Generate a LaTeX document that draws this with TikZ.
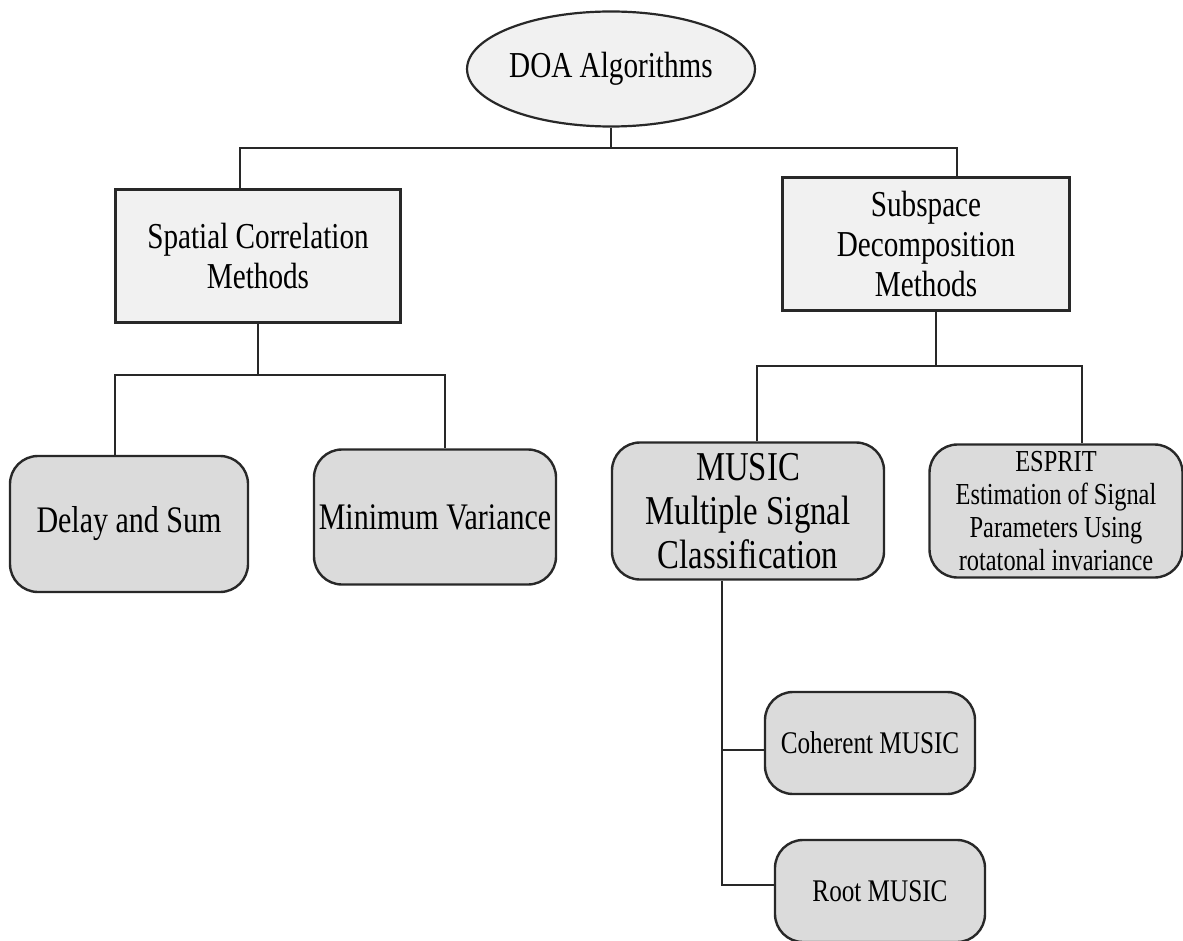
\documentclass[tikz,border=0pt]{standalone}
\usepackage{fontspec}
\setmainfont{Liberation Serif}[FakeStretch=0.8]
\usepackage{tikz}
\usetikzlibrary{shapes.geometric,positioning,calc}
\usepackage{xcolor}
\definecolor{LineGray}{RGB}{40,40,40}
\definecolor{PaleGray}{RGB}{241,241,241}
\definecolor{MidGray}{RGB}{219,219,219}
\tikzset{
  rootnode/.style={ellipse, draw=LineGray, fill=PaleGray, line width=2.2pt,
    minimum width=245pt, minimum height=115pt, inner sep=0pt,
    font=\fontsize{36.5}{40}\selectfont},
  family/.style={rectangle, draw=LineGray, fill=PaleGray, line width=2.4pt,
    minimum height=133pt, inner sep=0pt, align=center,
    font=\fontsize{36.5}{40}\selectfont},
  method/.style={rectangle, rounded corners=28pt, draw=LineGray, fill=MidGray,
    line width=2.4pt, inner sep=0pt, align=center,
    font=\fontsize{37.5}{42}\selectfont},
  bigmethod/.style={method, font=\fontsize{41}{44}\selectfont},
  smallmethod/.style={method, font=\fontsize{30.5}{33}\selectfont},
  variant/.style={method, minimum width=210pt, minimum height=102pt,
    font=\fontsize{31.5}{33}\selectfont},
  link/.style={draw=LineGray, line width=2.4pt}
}

\begin{document}
\begin{tikzpicture}[x=1pt, y=-1pt]
  \useasboundingbox (0,0) rectangle (1183,941);
  % root and the two families
  \node[rootnode] (doa) at (611,69) {DOA Algorithms};
  \node[family, minimum width=285pt] (scm) at (258,256) {Spatial Correlation\\Methods};
  \node[family, minimum width=287pt] (sdm) at (926,244) {Subspace\\Decomposition\\Methods};
  % methods
  \node[method, minimum width=238pt, minimum height=136pt] (das) at (129,524) {Delay and Sum};
  \node[method, minimum width=242pt, minimum height=135pt] (mv) at (435,517) {Minimum Variance};
  \node[bigmethod, minimum width=272pt, minimum height=137pt] (music) at (748,511) {MUSIC\\Multiple Signal\\Classification};
  \node[smallmethod, minimum width=253pt, minimum height=133pt] (esprit) at (1056,511)
    {ESPRIT\\Estimation of Signal\\Parameters Using\\rotatonal invariance};
  % MUSIC variants
  \node[variant] (coh) at (870,743) {Coherent MUSIC};
  \node[variant] (rootm) at (880,891) {Root MUSIC};

  % junction points
  \coordinate (tl) at (240,148);
  \coordinate (tr) at (957,148);
  \coordinate (ml) at (115,375);
  \coordinate (mr) at (445,375);
  \coordinate (rl) at (757,366);
  \coordinate (rr) at (1082,366);
  \coordinate (mc) at (722,750);
  \coordinate (mb) at (722,885);

  % connectors
  \draw[link] (doa.south) -- (doa.south |- tl);
  \draw[link] (scm.north -| tl) -- (tl) -- (tr) -- (sdm.north -| tr);
  \draw[link] (scm.south) -- (scm.south |- ml);
  \draw[link] (das.north -| ml) -- (ml) -- (mr) -- (mv.north -| mr);
  \draw[link] ($(sdm.south)+(10,0)$) -- ($(sdm.south |- rl)+(10,0)$);
  \draw[link] (music.north -| rl) -- (rl) -- (rr) -- (esprit.north -| rr);
  \draw[link] (music.south -| mb) -- (mb) -- (rootm.west |- mb);
  \draw[link] (mc) -- (coh.west |- mc);
\end{tikzpicture}
\end{document}
